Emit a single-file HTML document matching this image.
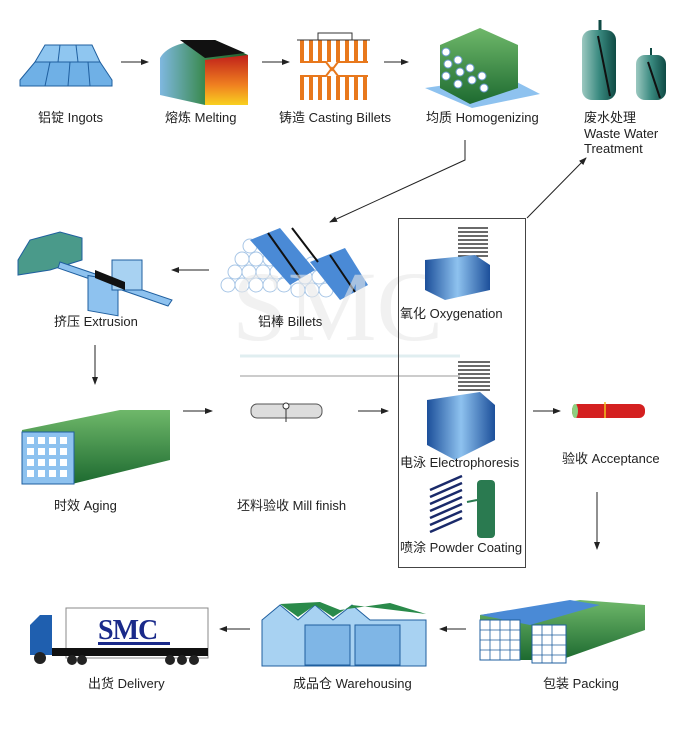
<!DOCTYPE html>
<html><head><meta charset="utf-8"><style>
html,body{margin:0;padding:0;background:#fff;width:700px;height:738px;overflow:hidden}
svg{display:block}
text{font-family:"Liberation Sans","Noto Sans CJK SC",sans-serif;font-size:13px;fill:#222}
</style></head><body>
<svg width="700" height="738" viewBox="0 0 700 738" xmlns="http://www.w3.org/2000/svg">
<defs>
<marker id="a" markerWidth="8" markerHeight="8" refX="7" refY="4" orient="auto" markerUnits="userSpaceOnUse"><path d="M0,1 L8,4 L0,7 Z" fill="#222"/></marker>
<linearGradient id="melt" x1="0" y1="0" x2="1" y2="0"><stop offset="0" stop-color="#7fb8e0"/><stop offset="0.5" stop-color="#3a8a50"/><stop offset="1" stop-color="#1d5a2a"/></linearGradient>
<linearGradient id="hot" x1="0" y1="0" x2="0" y2="1"><stop offset="0" stop-color="#c0201a"/><stop offset="0.6" stop-color="#f08020"/><stop offset="1" stop-color="#f8d020"/></linearGradient>
<linearGradient id="green" x1="0" y1="0" x2="0" y2="1"><stop offset="0" stop-color="#6fb86a"/><stop offset="1" stop-color="#1d6a30"/></linearGradient>
<linearGradient id="blue" x1="0" y1="0" x2="1" y2="0"><stop offset="0" stop-color="#1c4f9a"/><stop offset="0.5" stop-color="#8ec2ef"/><stop offset="1" stop-color="#1c4f9a"/></linearGradient>
<linearGradient id="tank" x1="0" y1="0" x2="1" y2="0"><stop offset="0" stop-color="#9cc8c0"/><stop offset="0.5" stop-color="#3a8a80"/><stop offset="1" stop-color="#0f4a44"/></linearGradient>
</defs>

<g stroke="#1f5f9f" stroke-width="1" fill="#6fb0e6">
<path d="M20,80 L35,62 L100,62 L112,80 L112,86 L20,86 Z"/>
<path d="M35,62 L45,45 L92,45 L100,62 Z" fill="#8fc6f0"/>
<line x1="50" y1="62" x2="45" y2="86"/><line x1="70" y1="62" x2="68" y2="86"/><line x1="88" y1="62" x2="90" y2="86"/>
<line x1="60" y1="45" x2="58" y2="62"/><line x1="76" y1="45" x2="78" y2="62"/>
</g>
<path d="M160,58 Q170,40 215,40 L248,55 L248,105 L205,105 L160,95 Z" fill="url(#melt)"/>
<path d="M205,60 L248,55 L248,105 L205,105 Z" fill="url(#hot)"/>
<path d="M180,40 L215,40 L245,53 L205,58 Z" fill="#111"/>
<g fill="#e8781c">
<rect x="300" y="40" width="4" height="22"/><rect x="309" y="40" width="4" height="22"/><rect x="318" y="40" width="4" height="22"/><rect x="327" y="40" width="4" height="22"/><rect x="336" y="40" width="4" height="22"/><rect x="345" y="40" width="4" height="22"/><rect x="354" y="40" width="4" height="22"/><rect x="363" y="40" width="4" height="22"/>
<rect x="300" y="76" width="4" height="24"/><rect x="309" y="76" width="4" height="24"/><rect x="318" y="76" width="4" height="24"/><rect x="327" y="76" width="4" height="24"/><rect x="336" y="76" width="4" height="24"/><rect x="345" y="76" width="4" height="24"/><rect x="354" y="76" width="4" height="24"/><rect x="363" y="76" width="4" height="24"/>
</g>
<path d="M297,40 H370 M318,40 V33 H352 V40" stroke="#333" fill="none" stroke-width="1"/>
<path d="M300,62 H326 L332,70 L338,62 H368 M300,76 H326 L332,68 L338,76 H368" stroke="#e8781c" stroke-width="2" fill="none"/>
<path d="M425,88 L472,108 L540,94 L505,76 Z" fill="#8ec2ef"/>
<path d="M440,45 L480,28 L518,45 L518,88 L470,104 L440,88 Z" fill="url(#green)"/>
<g fill="#fff" stroke="#6a9acc"><circle cx="446" cy="52" r="4"/><circle cx="448" cy="64" r="4"/><circle cx="446" cy="76" r="4"/><circle cx="458" cy="60" r="4"/><circle cx="460" cy="72" r="4"/><circle cx="458" cy="84" r="4"/><circle cx="470" cy="68" r="4"/><circle cx="472" cy="80" r="4"/><circle cx="482" cy="76" r="4"/><circle cx="484" cy="88" r="4"/></g>
<rect x="582" y="30" width="34" height="70" rx="10" fill="url(#tank)"/>
<line x1="598" y1="36" x2="610" y2="96" stroke="#111" stroke-width="2"/>
<line x1="600" y1="20" x2="600" y2="30" stroke="#0f4a44" stroke-width="3"/>
<rect x="636" y="55" width="30" height="45" rx="9" fill="url(#tank)"/>
<line x1="651" y1="48" x2="651" y2="55" stroke="#0f4a44" stroke-width="2"/>
<line x1="648" y1="62" x2="660" y2="98" stroke="#111" stroke-width="2"/>

<text x="38" y="122">铝锭 Ingots</text>
<text x="165" y="122">熔炼 Melting</text>
<text x="279" y="122">铸造 Casting Billets</text>
<text x="426" y="122">均质 Homogenizing</text>
<text x="584" y="122">废水处理</text>
<text x="584" y="138">Waste Water</text>
<text x="584" y="153">Treatment</text>

<g stroke="#222" stroke-width="1" fill="none" marker-end="url(#a)">
<line x1="121" y1="62" x2="148" y2="62"/>
<line x1="262" y1="62" x2="289" y2="62"/>
<line x1="384" y1="62" x2="408" y2="62"/>
<polyline points="465,140 465,160 330,222"/>
<line x1="527" y1="218" x2="586" y2="158"/>
<line x1="209" y1="270" x2="172" y2="270"/>
<line x1="95" y1="345" x2="95" y2="384"/>
<line x1="183" y1="411" x2="212" y2="411"/>
<line x1="358" y1="411" x2="388" y2="411"/>
<line x1="533" y1="411" x2="560" y2="411"/>
<line x1="597" y1="492" x2="597" y2="549"/>
<line x1="250" y1="629" x2="220" y2="629"/>
<line x1="466" y1="629" x2="440" y2="629"/>
</g>

<path d="M18,260 L30,240 L60,232 L82,238 L82,260 L50,270 L18,275 Z" fill="#4a9a8a" stroke="#1f5f9f"/>
<path d="M60,262 L172,300 L168,306 L58,268 Z" fill="#8ec2ef" stroke="#1f5f9f"/>
<rect x="88" y="260" width="30" height="35" fill="#8ec2ef" stroke="#1f5f9f" transform="skewY(10)" />
<rect x="112" y="260" width="30" height="30" fill="#a8d2f2" stroke="#1f5f9f"/>
<path d="M95,270 L125,282 L125,290 L95,278 Z" fill="#111"/>
<g fill="#fff" stroke="#a8c6e6">
<circle cx="228" cy="285" r="7"/><circle cx="242" cy="285" r="7"/><circle cx="256" cy="285" r="7"/><circle cx="270" cy="285" r="7"/><circle cx="284" cy="285" r="7"/><circle cx="298" cy="290" r="7"/><circle cx="312" cy="290" r="7"/><circle cx="326" cy="290" r="7"/>
<circle cx="235" cy="272" r="7"/><circle cx="249" cy="272" r="7"/><circle cx="263" cy="272" r="7"/><circle cx="277" cy="272" r="7"/><circle cx="305" cy="277" r="7"/><circle cx="319" cy="277" r="7"/>
<circle cx="242" cy="259" r="7"/><circle cx="256" cy="259" r="7"/><circle cx="270" cy="259" r="7"/><circle cx="312" cy="264" r="7"/>
<circle cx="250" cy="246" r="7"/>
</g>
<path d="M250,240 L280,228 L315,270 L290,285 Z" fill="#4a8ad6"/>
<path d="M310,262 L345,248 L368,285 L340,300 Z" fill="#4a8ad6"/>
<path d="M268,233 L300,278 M292,228 L318,262 M330,255 L355,292" stroke="#111" stroke-width="2"/>
<text x="232" y="340" style="font-family:'Liberation Serif',serif;font-size:100px;fill:#e8e8e8;fill-opacity:0.6">SMC</text>
<line x1="240" y1="376" x2="460" y2="376" stroke="#ccc" stroke-width="2"/>
<line x1="240" y1="356" x2="460" y2="356" stroke="#e0eef0" stroke-width="3"/>
<text x="258" y="326">铝棒 Billets</text>
<text x="54" y="326">挤压 Extrusion</text>

<rect x="398.5" y="218.5" width="127" height="349" fill="none" stroke="#444"/>
<g stroke="#111" stroke-width="1.3"><line x1="458" y1="228" x2="488" y2="228"/><line x1="458" y1="232" x2="488" y2="232"/><line x1="458" y1="236" x2="488" y2="236"/><line x1="458" y1="240" x2="488" y2="240"/><line x1="458" y1="244" x2="488" y2="244"/><line x1="458" y1="248" x2="488" y2="248"/><line x1="458" y1="252" x2="488" y2="252"/><line x1="458" y1="256" x2="488" y2="256"/></g>
<path d="M425,260 L475,255 L490,265 L490,290 L445,300 L425,290 Z" fill="url(#blue)"/>
<text x="400" y="318">氧化 Oxygenation</text>
<g stroke="#111" stroke-width="1.3"><line x1="458" y1="362" x2="490" y2="362"/><line x1="458" y1="366" x2="490" y2="366"/><line x1="458" y1="370" x2="490" y2="370"/><line x1="458" y1="374" x2="490" y2="374"/><line x1="458" y1="378" x2="490" y2="378"/><line x1="458" y1="382" x2="490" y2="382"/><line x1="458" y1="386" x2="490" y2="386"/><line x1="458" y1="390" x2="490" y2="390"/></g>
<path d="M427,400 L480,392 L495,405 L495,440 L455,460 L427,445 Z" fill="url(#blue)"/>
<text x="400" y="467">电泳 Electrophoresis</text>
<g stroke="#1a2a6a" stroke-width="2.5"><line x1="430" y1="490" x2="462" y2="476"/><line x1="430" y1="497" x2="462" y2="483"/><line x1="430" y1="504" x2="462" y2="490"/><line x1="430" y1="511" x2="462" y2="497"/><line x1="430" y1="518" x2="462" y2="504"/><line x1="430" y1="525" x2="462" y2="511"/><line x1="430" y1="532" x2="462" y2="518"/></g>
<rect x="477" y="480" width="18" height="58" rx="4" fill="#2a7a50"/>
<line x1="467" y1="502" x2="477" y2="500" stroke="#2a7a50" stroke-width="2"/>
<text x="400" y="552">喷涂 Powder Coating</text>

<path d="M22,430 L120,410 L170,410 L170,460 L72,484 L22,484 Z" fill="url(#green)"/>
<rect x="22" y="432" width="52" height="52" fill="#8ec2ef" stroke="#1f5f9f"/>
<g fill="#fff"><rect x="27" y="437" width="7" height="7"/><rect x="38" y="437" width="7" height="7"/><rect x="49" y="437" width="7" height="7"/><rect x="60" y="437" width="7" height="7"/><rect x="27" y="448" width="7" height="7"/><rect x="38" y="448" width="7" height="7"/><rect x="49" y="448" width="7" height="7"/><rect x="60" y="448" width="7" height="7"/><rect x="27" y="459" width="7" height="7"/><rect x="38" y="459" width="7" height="7"/><rect x="49" y="459" width="7" height="7"/><rect x="60" y="459" width="7" height="7"/><rect x="27" y="470" width="7" height="7"/><rect x="38" y="470" width="7" height="7"/><rect x="49" y="470" width="7" height="7"/><rect x="60" y="470" width="7" height="7"/></g>
<text x="54" y="510">时效 Aging</text>
<rect x="251" y="404" width="71" height="14" rx="6" fill="#ddd" stroke="#555"/>
<line x1="286" y1="404" x2="286" y2="422" stroke="#333"/><circle cx="286" cy="406" r="3" fill="#fff" stroke="#333"/>
<text x="237" y="510">坯料验收  Mill finish</text>
<rect x="572" y="404" width="73" height="14" rx="6" fill="#d42020"/>
<ellipse cx="575" cy="411" rx="3" ry="7" fill="#8ed080"/>
<line x1="605" y1="402" x2="605" y2="418" stroke="#f0c020" stroke-width="1.5"/>
<text x="562" y="463">验收 Acceptance</text>

<rect x="66" y="608" width="142" height="50" fill="#fff" stroke="#888"/>
<text x="98" y="639" style="font-family:'Liberation Serif',serif;font-size:28px;font-weight:bold;fill:#1a2a8a;letter-spacing:-1px">SMC</text>
<rect x="98" y="642" width="72" height="3" fill="#1a2a8a"/>
<path d="M30,625 L40,615 L52,615 L52,655 L30,655 Z" fill="#1f5faf"/>
<rect x="52" y="648" width="156" height="8" fill="#111"/>
<g fill="#222"><circle cx="40" cy="658" r="6"/><circle cx="72" cy="660" r="5"/><circle cx="82" cy="660" r="5"/><circle cx="170" cy="660" r="5"/><circle cx="182" cy="660" r="5"/><circle cx="194" cy="660" r="5"/></g>
<text x="88" y="688">出货 Delivery</text>
<path d="M262,620 L280,605 L298,620 L315,605 L333,620 L352,605 L370,620 L426,620 L426,666 L262,666 Z" fill="#a8d2f2" stroke="#1f5f9f"/>
<path d="M280,604 L320,602 L340,610 L390,603 L426,614 L352,605 L333,617 L315,605 L298,617 Z" fill="#2a8a4a"/>
<rect x="305" y="625" width="45" height="40" fill="#7fb6e6" stroke="#1f5f9f"/>
<rect x="355" y="625" width="45" height="40" fill="#7fb6e6" stroke="#1f5f9f"/>
<text x="293" y="688">成品仓 Warehousing</text>
<path d="M480,615 L580,600 L645,605 L645,630 L560,660 L480,660 Z" fill="url(#green)"/>
<path d="M480,615 L570,600 L600,605 L530,625 Z" fill="#4a8ad6"/>
<rect x="480" y="620" width="40" height="40" fill="#fff" stroke="#1f5f9f"/>
<rect x="532" y="625" width="34" height="38" fill="#fff" stroke="#1f5f9f"/>
<path d="M480,630 H520 M480,640 H520 M480,650 H520 M490,620 V660 M500,620 V660 M510,620 V660 M532,635 H566 M532,645 H566 M532,655 H566 M542,625 V663 M552,625 V663" stroke="#1f5f9f" stroke-width="0.8"/>
<text x="543" y="688">包装 Packing</text>
</svg>
</body></html>
